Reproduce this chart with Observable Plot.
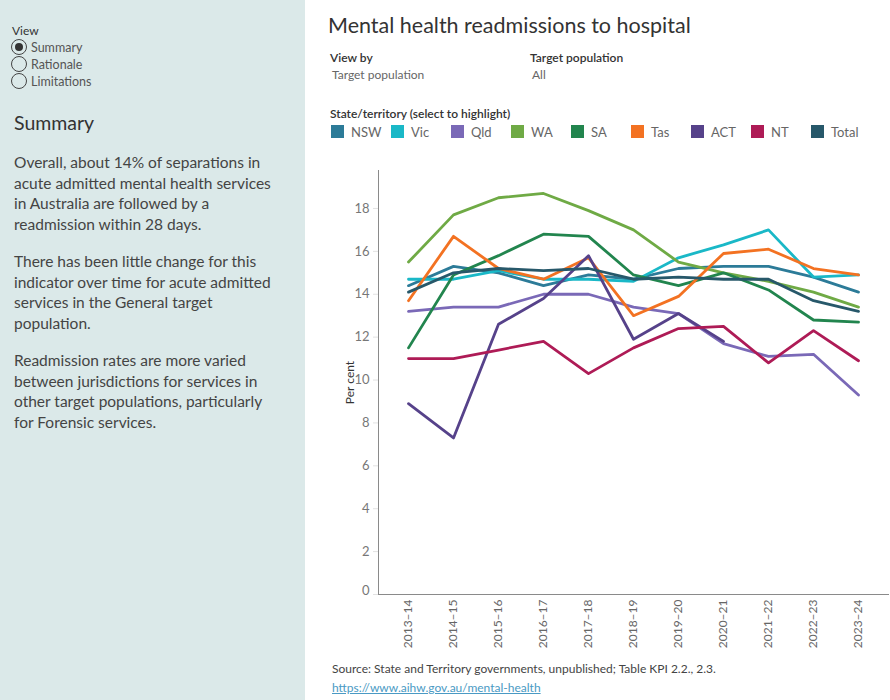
<!DOCTYPE html>
<html>
<head>
<meta charset="utf-8">
<script src="https://cdn.jsdelivr.net/npm/d3@7"></script>
<script src="https://cdn.jsdelivr.net/npm/@observablehq/plot@0.6"></script>
<style>
  html, body { margin: 0; padding: 0; background: #fff; }
  body { width: 890px; height: 700px; position: relative; overflow: hidden; font-family: Lato, "Noto Sans", sans-serif; color: #333; }
  .side { position: absolute; left: 0; top: 0; width: 305px; height: 700px; background: #dbe9e9; }
  .abs { position: absolute; white-space: nowrap; }
  .view { left: 12px; top: 23px; font-size: 12px; color: #333; }
  .radio { left: 11px; font-size: 12.5px; color: #555; display: flex; align-items: center; }
  .radio i { display: inline-block; width: 16px; height: 16px; border: 1.3px solid #444; border-radius: 50%; box-sizing: border-box; margin-right: 4px; position: relative; }
  .radio i.on::after { content: ""; position: absolute; left: 2.7px; top: 2.7px; width: 8px; height: 8px; border-radius: 50%; background: #333; }
  .sumhead { left: 14px; top: 111px; font-size: 19.5px; color: #333; }
  .para { position: absolute; left: 14px; width: 290px; font-size: 15.5px; line-height: 20.5px; color: #444; white-space: nowrap; margin: 0; }
  .title { left: 328px; top: 12px; font-size: 21.5px; color: #333; }
  .lbl { font-size: 12px; color: #333; font-weight: 600; }
  .val { font-size: 12px; color: #666; }
  #legend { position: absolute; left: 331px; top: 115px; }
  .lg-swatches { font-family: Lato, "Noto Sans", sans-serif; font-size: 13px; color: #666; }
  .lg-swatch { width: 60px; margin-right: 0 !important; }
  .lg-swatch > svg { margin-right: 7px !important; }
  #chart { position: absolute; left: 320px; top: 160px; }
  .cap { left: 332px; top: 661px; font-size: 12px; color: #444; }
  .link { left: 332px; top: 680px; font-size: 12px; color: #4a9ac4; text-decoration: underline; }
</style>
</head>
<body>
<div class="side">
  <div class="abs view">View</div>
  <div class="abs radio" style="top:39px"><i class="on"></i>Summary</div>
  <div class="abs radio" style="top:56px"><i></i>Rationale</div>
  <div class="abs radio" style="top:73px"><i></i>Limitations</div>
  <div class="abs sumhead">Summary</div>
  <p class="para" style="top:152px">Overall, about 14% of separations in<br>acute admitted mental health services<br>in Australia are followed by a<br>readmission within 28 days.</p>
  <p class="para" style="top:251px">There has been little change for this<br>indicator over time for acute admitted<br>services in the General target<br>population.</p>
  <p class="para" style="top:350px">Readmission rates are more varied<br>between jurisdictions for services in<br>other target populations, particularly<br>for Forensic services.</p>
</div>

<div class="abs title">Mental health readmissions to hospital</div>
<div class="abs lbl" style="left:330px;top:50px">View by</div>
<div class="abs val" style="left:332px;top:67px">Target population</div>
<div class="abs lbl" style="left:530px;top:50px">Target population</div>
<div class="abs val" style="left:532px;top:67px">All</div>
<div class="abs lbl" style="left:330px;top:106px">State/territory (select to highlight)</div>
<div id="legend"></div>
<div id="chart"></div>
<div class="abs cap">Source: State and Territory governments, unpublished; Table KPI 2.2., 2.3.</div>
<div class="abs link">https://www.aihw.gov.au/mental-health</div>

<script>
// Financial years on the x axis
const years = ["2013–14", "2014–15", "2015–16", "2016–17", "2017–18", "2018–19",
               "2019–20", "2020–21", "2021–22", "2022–23", "2023–24"];

// Jurisdictions and their line colours
const states = ["NSW", "Vic", "Qld", "WA", "SA", "Tas", "ACT", "NT", "Total"];
const colors = ["#2c7b98", "#1ab8c7", "#7a69b7", "#6faa45", "#22854e",
                "#f37222", "#56428a", "#ae1b56", "#27586a"];

// Readmission rate within 28 days (per cent), by year
const NSW   = [14.4, 15.3, 15.0, 14.4, 14.9, 14.7, 15.2, 15.3, 15.3, 14.8, 14.1];
const Vic   = [14.7, 14.7, 15.1, 14.7, 14.7, 14.6, 15.7, 16.3, 17.0, 14.8, 14.9];
const Qld   = [13.2, 13.4, 13.4, 14.0, 14.0, 13.4, 13.1, 11.7, 11.1, 11.2, 9.3];
const WA    = [15.5, 17.7, 18.5, 18.7, 17.9, 17.0, 15.5, 15.0, 14.6, 14.1, 13.4];
const SA    = [11.5, 14.9, 15.8, 16.8, 16.7, 14.9, 14.4, 15.0, 14.2, 12.8, 12.7];
const Tas   = [13.7, 16.7, 15.2, 14.7, 15.7, 13.0, 13.9, 15.9, 16.1, 15.2, 14.9];
const ACT   = [8.9, 7.3, 12.6, 13.8, 15.8, 11.9, 13.1, 11.8, null, null, null];
const NT    = [11.0, 11.0, 11.4, 11.8, 10.3, 11.5, 12.4, 12.5, 10.8, 12.3, 10.9];
const Total = [14.1, 15.0, 15.2, 15.1, 15.2, 14.7, 14.8, 14.7, 14.7, 13.7, 13.2];

// Y axis tick values
const yTicks = [0, 2, 4, 6, 8, 10, 12, 14, 16, 18];

const series = [NSW, Vic, Qld, WA, SA, Tas, ACT, NT, Total];
const rows = states.flatMap((state, k) =>
  years.map((year, i) => ({state, year, value: series[k][i]})));

const colorScale = {domain: states, range: colors};

document.getElementById("legend").append(
  Plot.legend({
    color: colorScale,
    legend: "swatches",
    swatchSize: 13,
    className: "lg"
  })
);

const chart = Plot.plot({
  width: 570,
  height: 504,
  marginLeft: 58,
  marginRight: 2,
  marginTop: 10,
  marginBottom: 70,
  style: {fontFamily: "Lato, 'Noto Sans', sans-serif", fontSize: "12px", background: "transparent"},
  x: {type: "point", domain: years, padding: 0.57},
  y: {domain: [0, 19.77]},
  color: colorScale,
  marks: [
    Plot.axisY({
      ticks: yTicks,
      tickSize: 5,
      tickPadding: 4,
      stroke: "#e2e2e2",
      fill: "#777",
      fontSize: 13,
      label: "Per cent",
      labelAnchor: "center",
      labelArrow: false,
      labelOffset: 33
    }),
    Plot.axisX({
      tickRotate: -90,
      tickSize: 0,
      tickPadding: 5,
      fill: "#666",
      fontSize: 12,
      label: null
    }),
    Plot.frame({anchor: "left", stroke: "#8a8a8a"}),
    Plot.frame({anchor: "bottom", stroke: "#8a8a8a"}),
    Plot.line(rows, {
      x: "year",
      y: "value",
      z: "state",
      stroke: "state",
      strokeWidth: 2.8,
      strokeLinejoin: "round",
      strokeLinecap: "round"
    })
  ]
});

// Axis title in dark text, tick labels stay grey
chart.querySelectorAll("g[aria-label='y-axis label'] text").forEach(t => {
  t.setAttribute("fill", "#333");
  t.setAttribute("font-size", "12");
});

// The bottom tick label sits a little above its tick
chart.querySelectorAll("g[aria-label='y-axis tick label'] text").forEach(t => {
  if (t.textContent === "0") t.setAttribute("dy", "-0.3em");
});

document.getElementById("chart").append(chart);
</script>
</body>
</html>
